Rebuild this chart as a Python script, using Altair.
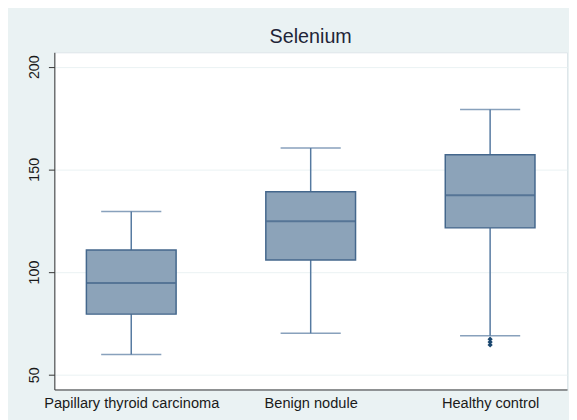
import altair as alt
import pandas as pd

groups = ["Papillary thyroid carcinoma", "Benign nodule", "Healthy control"]
lower = [59.8, 70.2, 69.0]
q1 = [79.5, 105.9, 121.5]
median = [94.7, 124.7, 137.4]
q3 = [110.7, 139.1, 157.1]
upper = [129.5, 160.4, 179.2]

outlier_groups = ["Healthy control", "Healthy control", "Healthy control"]
outlier_values = [67.3, 65.9, 64.5]

y_ticks = [50, 100, 150, 200]

df = pd.DataFrame({"group": groups, "lower": lower, "q1": q1,
                   "median": median, "q3": q3, "upper": upper})
out = pd.DataFrame({"group": outlier_groups, "value": outlier_values})

FONT = "Liberation Sans"
BOXFILL = "#8ca3b9"
BOXLINE = "#44678c"
WHISK = "#5579a0"

x = alt.X("group:N", sort=groups, title=None,
          scale=alt.Scale(type="point", padding=0.4286),
          axis=alt.Axis(labelAngle=0, ticks=False, labelPadding=6,
                        labelFontSize=14.8, labelFont=FONT, labelColor="#1a1a1a",
                        domainColor="#333333", domainWidth=1, grid=False))
yscale = alt.Scale(domain=[42.8, 207], nice=False, zero=False)
yaxis = alt.Axis(values=y_ticks, labelAngle=-90, labelAlign="center",
                 labelBaseline="bottom", labelPadding=7, tickSize=6,
                 tickColor="#333333", labelFontSize=14.5, labelFont=FONT,
                 labelColor="#1a1a1a", domainColor="#333333", domainWidth=1,
                 grid=True, gridColor="#eaf2f3", gridWidth=1, title=None)

base = alt.Chart(df)

whisk = base.mark_rule(color=WHISK, strokeWidth=1.5).encode(
    x=x, y=alt.Y("lower:Q", scale=yscale, axis=yaxis), y2="upper:Q")
caps_lo = base.mark_tick(color=WHISK, size=61, thickness=1.5).encode(
    x=x, y=alt.Y("lower:Q", scale=yscale))
caps_hi = base.mark_tick(color=WHISK, size=61, thickness=1.5).encode(
    x=x, y=alt.Y("upper:Q", scale=yscale))
box = base.mark_bar(size=91, fill=BOXFILL, stroke=BOXLINE, strokeWidth=1.5).encode(
    x=x, y=alt.Y("q1:Q", scale=yscale), y2="q3:Q")
med = base.mark_tick(color="#3e6187", size=90, thickness=2).encode(
    x=x, y=alt.Y("median:Q", scale=yscale))
pts = alt.Chart(out).mark_point(shape="diamond", filled=True, size=28,
                                color="#1a476f", opacity=1).encode(
    x=x, y=alt.Y("value:Q", scale=yscale))

chart = alt.layer(whisk, caps_lo, caps_hi, box, med, pts).properties(
    width=520, height=342,
    title=alt.TitleParams("Selenium", font=FONT, fontSize=20, fontWeight="normal",
                          color="#1e2538", anchor="middle", offset=5),
    background="#eaf2f3",
    padding={"left": 47, "top": 42, "right": 2, "bottom": 28},
    autosize=alt.AutoSizeParams(type="none"),
).configure_view(fill="white", stroke="#dde6ea", strokeWidth=1)

chart.save("out.html", embed_options={"renderer": "svg", "actions": False})
